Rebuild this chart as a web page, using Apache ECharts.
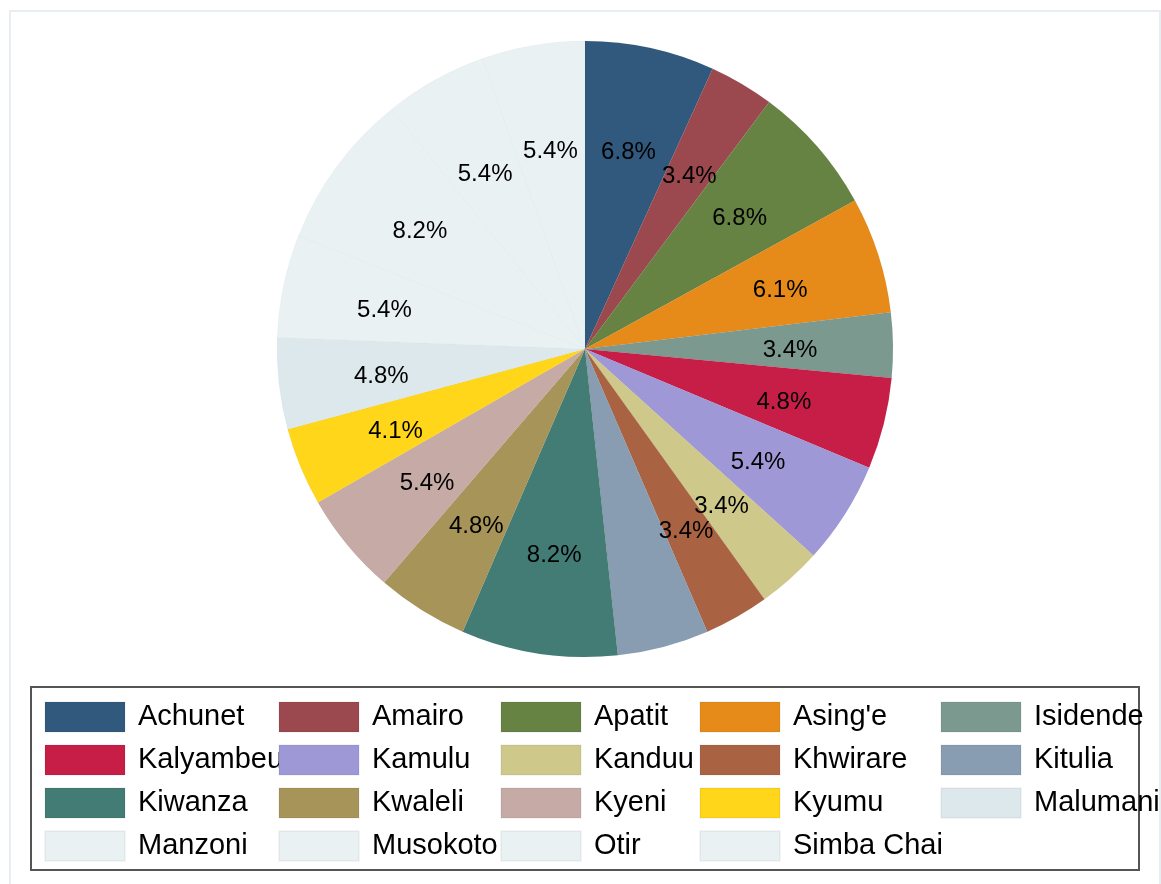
<!DOCTYPE html>
<html>
<head>
<meta charset="utf-8">
<script src="https://cdn.jsdelivr.net/npm/echarts@6/dist/echarts.min.js"></script>
<style>
  html, body { margin: 0; padding: 0; background: #fff; }
  #chart { width: 1161px; height: 884px; }
</style>
</head>
<body>
<div id="chart"></div>
<script>
// share of each village, percent (as printed on the slices)
var villages = ["Achunet", "Amairo", "Apatit", "Asing'e", "Isidende",
                "Kalyambeu", "Kamulu", "Kanduu", "Khwirare", "Kitulia",
                "Kiwanza", "Kwaleli", "Kyeni", "Kyumu", "Malumani",
                "Manzoni", "Musokoto", "Otir", "Simba Chai"];
var shares = [6.8, 3.4, 6.8, 6.1, 3.4,
              4.8, 5.4, 3.4, 3.4, 4.8,
              8.2, 4.8, 5.4, 4.1, 4.8,
              5.4, 8.2, 5.4, 5.4];
var sliceColors = ['#31597d', '#9b494f', '#668344', '#e68b1a', '#7c9990',
                   '#c71e48', '#9e98d6', '#cfc88b', '#aa6342', '#889db1',
                   '#427c75', '#a69459', '#c5aaa6', '#ffd61a', '#dde8ed',
                   '#e9f1f3', '#e9f1f3', '#e9f1f3', '#e9f1f3'];

var chart = document.getElementById('chart');
var myChart = echarts.init(chart, null, { renderer: 'canvas' });

var pieData = [];
var labelData = [];
for (var i = 0; i < villages.length; i++) {
	pieData.push({
		name: villages[i],
		value: shares[i],
		itemStyle: { color: sliceColors[i] }
	});
	labelData.push({ name: villages[i], value: shares[i] });
}

// legend laid out as a 5 column grid, one legend per column
var colLeft = [44, 278, 500, 699, 940];
var legends = [];
for (var c = 0; c < 5; c++) {
	var names = [];
	for (var k = c; k < villages.length; k += 5) names.push(villages[k]);
	legends.push({
		orient: 'vertical',
		left: colLeft[c],
		top: 701,
		padding: 0,
		itemWidth: 80,
		itemHeight: 30,
		itemGap: 11,
		icon: 'rect',
		selectedMode: false,
		data: names,
		textStyle: {
			fontFamily: 'Liberation Sans',
			fontSize: 29,
			lineHeight: 30,
			color: '#000',
			padding: [0, 0, 0, 8]
		}
	});
}

var options = {
	animation: false,
	backgroundColor: '#fff',
	legend: legends,
	graphic: [
		{
			type: 'rect',
			shape: { x: 10, y: 11, width: 1150, height: 885 },
			style: { fill: 'none', stroke: '#e6eef1', lineWidth: 2 },
			silent: true
		},
		{
			type: 'rect',
			shape: { x: 31, y: 687, width: 1108, height: 183 },
			style: { fill: 'none', stroke: '#555', lineWidth: 2 },
			silent: true
		}
	],
	series: [
		{
			type: 'pie',
			center: [585, 349],
			radius: [0, 308],
			startAngle: 90,
			clockwise: true,
			data: pieData,
			label: { show: false },
			labelLine: { show: false },
			itemStyle: { borderWidth: 0.5, borderColor: 'rgba(0,0,0,0.04)' },
			emphasis: { disabled: true }
		},
		{
			// invisible ring, only used to put the labels at about 2/3 of the radius
			// (centre a few px lower: the labels sit slightly low in the original)
			type: 'pie',
			center: [585, 353],
			radius: [96, 308],
			startAngle: 90,
			clockwise: true,
			silent: true,
			data: labelData,
			itemStyle: { color: 'rgba(0,0,0,0)' },
			label: {
				show: true,
				position: 'inside',
				formatter: function (p) { return p.value.toFixed(1) + '%'; },
				fontFamily: 'Liberation Sans',
				fontSize: 24,
				color: '#000'
			},
			labelLine: { show: false },
			emphasis: { disabled: true }
		}
	]
};

myChart.setOption(options);
</script>
</body>
</html>
